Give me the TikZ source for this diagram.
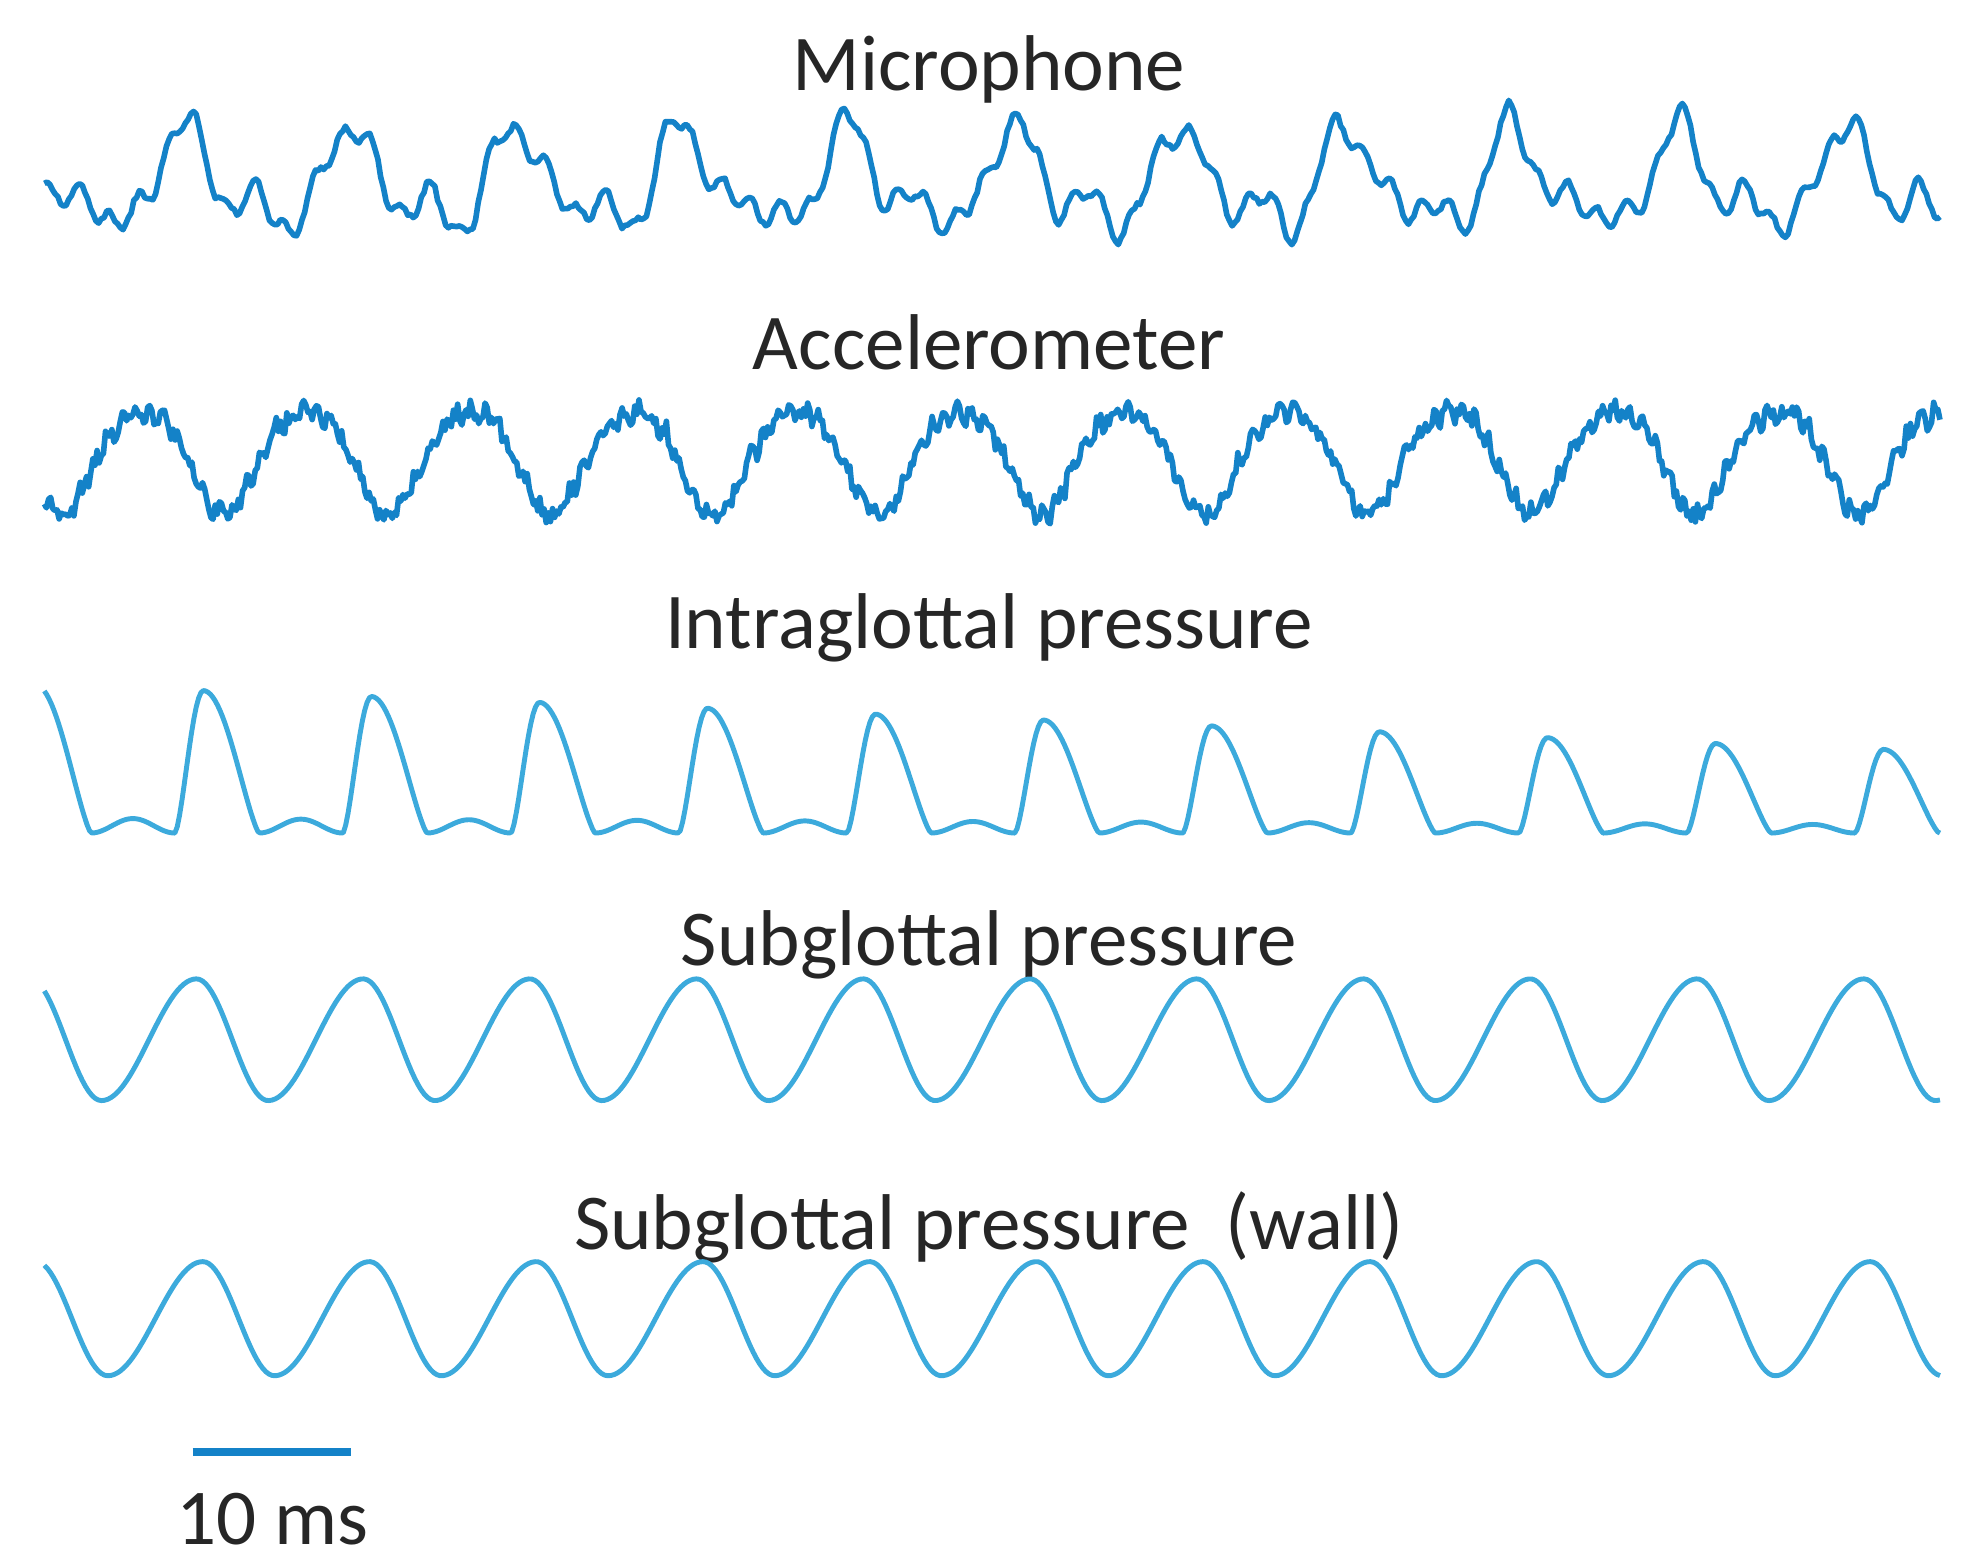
\documentclass[tikz,border=0pt]{standalone}
\usepackage{fontspec}
\setmainfont{Carlito}
\begin{document}
\begin{tikzpicture}[x=0.01268cm,y=-0.01268cm,
  lbl/.style={font=\fontsize{22.5}{26}\selectfont,text=black!85},
  dk/.style={color={rgb,255:red,20;green,130;blue,200},line width=1.6pt,line join=round},
  lt/.style={color={rgb,255:red,60;green,170;blue,220},line width=1.4pt,line join=round},
  declare function={
    ph(\x,\o,\T)=mod(\x-\o+10*\T,\T)/\T;
    pulse(\p)=(\p<0.17)*(max(0.0001,sin(min(1,\p/0.17)*90))^1.5)+(\p>=0.17)*(\p<0.5)*(max(0.0001,cos(min(1,max(0,\p-0.17)/0.33)*90))^1.3)+(\p>=0.5)*0.1*sin((\p-0.5)/0.5*180)^2;
    saw(\p)=(\p<0.57)*(-cos(\p/0.57*180))+(\p>=0.57)*cos((\p-0.57)/0.43*180);
  }]
\useasboundingbox (0,0) rectangle (1560,1231);
\pgfmathsetseed{7}
\node[lbl] (t1) at (780,55) {Microphone};
\node[lbl] (t2) at (780,270) {Accelerometer};
\node[lbl] (t3) at (780,495) {Intraglottal pressure};
\node[lbl] (t4) at (780,745) {Subglottal pressure};
\node[lbl] (t5) at (780,968) {Subglottal pressure\ \ (wall)};
\draw[dk] plot[domain=35:1530,samples=700,variable=\x]
  ({\x},{145-32*sin((\x-115)/131*360)-16*sin((\x-60)/131*720)-10*sin(\x/47*360)+8*sin(mod(\x,23)/23*360)+2*rand});
\draw[dk] plot[domain=35:1530,samples=900,variable=\x]
  ({\x},{360-40*sin((\x-80)/129*360)+6*sin((\x-30)/129*720)+7*rand+4*sin(mod(\x,11)/11*360)});
\draw[lt] plot[domain=35:1530,samples=800,variable=\x]
  ({\x},{657-(118-0.035*\x)*pulse(ph(\x,138,132.5))});
\draw[lt] plot[domain=35:1530,samples=600,variable=\x]
  ({\x},{820-48*saw(ph(\x,80,131.5))});
\draw[lt] plot[domain=35:1530,samples=600,variable=\x]
  ({\x},{1040-45*saw(ph(\x,85,131.5))});
\coordinate (s1) at (152,1145);
\coordinate (s2) at (277,1145);
\draw[dk,line width=2.4pt] (s1) -- (s2);
\node[lbl] (sb) at (215,1198) {10 ms};
\end{tikzpicture}
\end{document}
